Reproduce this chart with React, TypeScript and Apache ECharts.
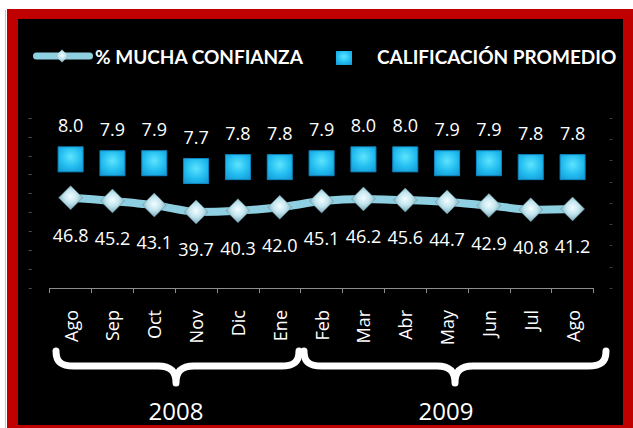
import React, { useEffect, useRef } from "react";
import * as echarts from "echarts";

// ---- data ----
const months = ["Ago", "Sep", "Oct", "Nov", "Dic", "Ene", "Feb", "Mar", "Abr", "May", "Jun", "Jul", "Ago"];
const confianza = [46.8, 45.2, 43.1, 39.7, 40.3, 42.0, 45.1, 46.2, 45.6, 44.7, 42.9, 40.8, 41.2];
const calificacion = [8.0, 7.9, 7.9, 7.7, 7.8, 7.8, 7.9, 8.0, 8.0, 7.9, 7.9, 7.8, 7.8];
const years = ["2008", "2009"];
const legendNames = ["% MUCHA CONFIANZA", "CALIFICACIÓN PROMEDIO"];

// decorative braces under the month labels
const brace2008 =
  "M56,351 C56,362 61,366 74,366 L158,366 C170,366 176,371 176,383 C176,371 182,366 194,366 L281,366 C294,366 299,362 299,351";
const brace2009 =
  "M304,351 C304,362 309,366 322,366 L437,366 C449,366 455,371 455,383 C455,371 461,366 473,366 L588,366 C601,366 606,362 606,351";
echarts.graphic.registerShape("brace2008", echarts.graphic.extendPath(brace2008, {}));
echarts.graphic.registerShape("brace2009", echarts.graphic.extendPath(brace2009, {}));

const diamondFill = new echarts.graphic.RadialGradient(0.5, 0.45, 0.6, [
  { offset: 0, color: "#f4fcff" },
  { offset: 0.45, color: "#c3e6ef" },
  { offset: 1, color: "#6f9fae" },
]);
const squareFill = new echarts.graphic.RadialGradient(0.5, 0.4, 0.75, [
  { offset: 0, color: "#5ee4fd" },
  { offset: 0.55, color: "#22bdf0" },
  { offset: 1, color: "#1596d2" },
]);

const FONT = '"Open Sans", sans-serif';

export default function App() {
  const ref = useRef<HTMLDivElement>(null);
  useEffect(() => {
    if (!ref.current) return;
    const chart = echarts.init(ref.current, null, { renderer: "svg" });
    const yearX = [176, 446];
    chart.setOption({
      animation: false,
      backgroundColor: "transparent",
      grid: { left: 49.7, right: 39.5, top: 118, bottom: 140, containLabel: false },
      xAxis: {
        type: "category",
        data: months,
        boundaryGap: true,
        axisLine: { show: true, lineStyle: { color: "#8c8c8c", width: 1 } },
        axisTick: { show: true, length: 5, lineStyle: { color: "#8c8c8c" } },
        axisLabel: { rotate: 90, color: "#ffffff", fontSize: 18, fontFamily: FONT, margin: 22, interval: 0 },
        splitLine: { show: false },
      },
      yAxis: [
        { type: "value", min: 4.7, max: 9.06, show: false },
        { type: "value", min: 1.65, max: 86.65, show: false },
        {
          type: "value", min: 0, max: 9, interval: 1, position: "left", offset: 18,
          axisLine: { show: false },
          axisTick: { show: true, length: 3, lineStyle: { color: "#4d4d4d" } },
          axisLabel: { show: false }, splitLine: { show: false },
        },
        {
          type: "value", min: 0, max: 8, interval: 1, position: "right", offset: 16,
          axisLine: { show: false },
          axisTick: { show: true, length: 3, lineStyle: { color: "#3d3d3d" } },
          axisLabel: { show: false }, splitLine: { show: false },
        },
      ],
      series: [
        {
          name: legendNames[0],
          type: "line",
          yAxisIndex: 1,
          data: confianza,
          smooth: 0.2,
          symbol: "diamond",
          symbolSize: 24,
          lineStyle: { color: "#8ecfe1", width: 8 },
          itemStyle: { color: diamondFill, borderColor: "#5f8f9c", borderWidth: 0.5, opacity: 1 },
          label: {
            show: true, position: "bottom", distance: 16, color: "#ffffff",
            fontSize: 18, fontFamily: FONT,
            formatter: (p: any) => Number(p.value).toFixed(1),
          },
          z: 2,
        },
        {
          name: legendNames[1],
          type: "scatter",
          yAxisIndex: 0,
          data: calificacion,
          symbol: "rect",
          symbolSize: 25,
          itemStyle: { color: squareFill, borderColor: "#1088c0", borderWidth: 1, opacity: 1 },
          label: {
            show: true, position: "top", distance: 12, color: "#ffffff",
            fontSize: 18, fontFamily: FONT,
            formatter: (p: any) => Number(p.value).toFixed(1),
          },
          z: 3,
        },
      ],
      graphic: [
        // legend: line icon
        { type: "rect", shape: { x: 33, y: 52.5, width: 60, height: 7, r: 3.5 }, style: { fill: "#8ecfe1" } },
        {
          type: "polygon",
          shape: { points: [[62, 49.5], [68.5, 56], [62, 62.5], [55.5, 56]] },
          style: { fill: diamondFill },
        },
        {
          type: "text", x: 95, y: 56.5,
          style: { text: legendNames[0], fill: "#ffffff", fontSize: 19, fontWeight: "bold", fontFamily: "Lato, sans-serif", align: "left", verticalAlign: "middle" },
        },
        // legend: square icon
        { type: "rect", shape: { x: 336, y: 51, width: 16, height: 14 }, style: { fill: squareFill } },
        {
          type: "text", x: 377, y: 56.5,
          style: { text: legendNames[1], fill: "#ffffff", fontSize: 19, fontWeight: "bold", fontFamily: "Lato, sans-serif", align: "left", verticalAlign: "middle" },
        },
        // braces
        { type: "brace2008", x: 0, y: 0, scaleX: 1, scaleY: 1, style: { fill: "none", stroke: "#ffffff", lineWidth: 7, lineCap: "round", lineJoin: "round" } },
        { type: "brace2009", x: 0, y: 0, scaleX: 1, scaleY: 1, style: { fill: "none", stroke: "#ffffff", lineWidth: 7, lineCap: "round", lineJoin: "round" } },
        // years
        ...years.map((y, i) => ({
          type: "text", x: yearX[i], y: 410,
          style: { text: y, fill: "#ffffff", fontSize: 24, fontFamily: FONT, align: "center", verticalAlign: "middle" },
        })),
      ],
    });
    return () => chart.dispose();
  }, []);

  return (
    <div style={{ position: "fixed", left: 0, top: 0, width: 633, height: 428, background: "#ffffff", overflow: "hidden" }}>
      <div style={{ position: "absolute", left: 5, top: 10, width: 1, height: 418, background: "#c8c8c8" }} />
      <div style={{ position: "absolute", left: 7, top: 9, width: 626, height: 419, background: "#c00000" }} />
      <div style={{ position: "absolute", left: 18, top: 19, width: 605, height: 406, background: "#000000" }} />
      <div ref={ref} style={{ position: "absolute", left: 0, top: 0, width: 633, height: 428 }} />
    </div>
  );
}
